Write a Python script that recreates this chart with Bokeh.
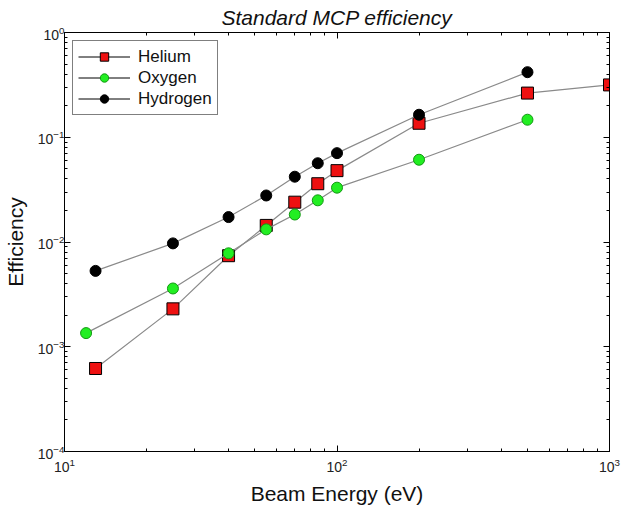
import math
from bokeh.plotting import figure
from bokeh.models import (LogAxis, FixedTicker, Legend, LegendItem,
                          CustomJSTickFormatter, Range1d)
from bokeh.embed import file_html
from bokeh.resources import INLINE

# ---- data ----
energy_he = [13, 25, 40, 55, 70, 85, 100, 200, 500, 1000]
eff_he = [6.2e-4, 2.3e-3, 7.4e-3, 1.44e-2, 2.4e-2, 3.6e-2, 4.8e-2, 0.136, 0.264, 0.316]

energy_o = [12, 25, 40, 55, 70, 85, 100, 200, 500]
eff_o = [1.35e-3, 3.6e-3, 7.8e-3, 1.32e-2, 1.83e-2, 2.5e-2, 3.3e-2, 6.1e-2, 0.147]

energy_h = [13, 25, 40, 55, 70, 85, 100, 200, 500]
eff_h = [5.3e-3, 9.7e-3, 1.73e-2, 2.78e-2, 4.2e-2, 5.65e-2, 7.05e-2, 0.164, 0.418]

x_major = [10, 100, 1000]
y_major = [1e-4, 1e-3, 1e-2, 1e-1, 1]

TITLE = "Standard MCP efficiency"
X_LABEL = "Beam Energy (eV)"
Y_LABEL = "Efficiency"

FONT = "Liberation Sans"

x_minor = [m * d for d in [10, 100] for m in range(2, 10)]
y_minor = [m * d for d in [1e-4, 1e-3, 1e-2, 1e-1] for m in range(2, 10)]

p = figure(width=622, height=508, x_axis_type="log", y_axis_type="log",
           x_range=Range1d(10, 1000), y_range=Range1d(1e-4, 1),
           output_backend="svg", toolbar_location=None,
           min_border_left=62, min_border_right=13,
           min_border_top=32, min_border_bottom=57,
           background_fill_color="white", border_fill_color="white")

p.title.text = TITLE
p.title.align = "center"
p.title.text_font = FONT
p.title.text_font_style = "italic"
p.title.text_font_size = "21px"
p.title.text_color = "#111111"
p.title.standoff = 7
p.title.offset = 0

p.xgrid.visible = False
p.ygrid.visible = False
p.outline_line_color = "black"
p.outline_line_width = 1


def style_axis(ax, ticks, minor):
    ax.ticker = FixedTicker(ticks=ticks, minor_ticks=minor)
    ax.major_tick_in = 6
    ax.major_tick_out = 0
    ax.minor_tick_in = 3
    ax.minor_tick_out = 0
    ax.axis_line_color = "black"
    ax.major_tick_line_color = "black"
    ax.minor_tick_line_color = "black"
    ax.major_label_text_font = FONT
    ax.major_label_text_font_size = "14px"
    ax.major_label_text_color = "#222222"
    ax.axis_label_text_font = FONT
    ax.axis_label_text_font_style = "normal"
    ax.axis_label_text_font_size = "21px"
    ax.axis_label_text_color = "#111111"


style_axis(p.xaxis[0], x_major, x_minor)
style_axis(p.yaxis[0], y_major, y_minor)
p.xaxis[0].axis_label = X_LABEL
p.yaxis[0].axis_label = Y_LABEL
p.xaxis[0].major_label_standoff = 6
p.xaxis[0].axis_label_standoff = 7
p.yaxis[0].major_label_standoff = 0
p.yaxis[0].axis_label_standoff = 8

# frame ticks on the top and right edges (no labels)
blank = CustomJSTickFormatter(code="return ''")
top = LogAxis(formatter=blank, major_label_standoff=0)
style_axis(top, x_major, x_minor)
top.major_label_text_font_size = "1px"
right = LogAxis(formatter=blank, major_label_standoff=0)
style_axis(right, y_major, y_minor)
right.major_label_text_font_size = "1px"
p.add_layout(top, "above")
p.add_layout(right, "right")

LINE = "#8a8a8a"

# Helium
p.line(energy_he, eff_he, line_color=LINE, line_width=1.2)
p.scatter(energy_he, eff_he, marker="square", size=12,
          fill_color="#ee1111", line_color="black", line_width=1)
# Oxygen
p.line(energy_o, eff_o, line_color=LINE, line_width=1.2)
p.scatter(energy_o, eff_o, marker="circle", size=11,
          fill_color="#22ee22", line_color="#119911", line_width=1)
# Hydrogen
p.line(energy_h, eff_h, line_color=LINE, line_width=1.2)
p.scatter(energy_h, eff_h, marker="circle", size=11,
          fill_color="black", line_color="black", line_width=1)

# legend-only proxy renderers (black connecting line as in the reference legend);
# they hold a single NaN so nothing is drawn in the plot area
NAN = [math.nan]
lg_he_l = p.line(NAN, NAN, line_color="black", line_width=1)
lg_he_m = p.scatter(NAN, NAN, marker="square", size=12,
                    fill_color="#ee1111", line_color="black", line_width=1)
lg_o_l = p.line(NAN, NAN, line_color="black", line_width=1)
lg_o_m = p.scatter(NAN, NAN, marker="circle", size=11,
                   fill_color="#22ee22", line_color="#119911", line_width=1)
lg_h_l = p.line(NAN, NAN, line_color="black", line_width=1)
lg_h_m = p.scatter(NAN, NAN, marker="circle", size=11,
                   fill_color="black", line_color="black", line_width=1)

legend = Legend(items=[
    LegendItem(label="Helium", renderers=[lg_he_l, lg_he_m]),
    LegendItem(label="Oxygen", renderers=[lg_o_l, lg_o_m]),
    LegendItem(label="Hydrogen", renderers=[lg_h_l, lg_h_m]),
], location="top_left")
legend.margin = 8
legend.padding = 5
legend.spacing = 0
legend.glyph_width = 52
legend.glyph_height = 21
legend.label_height = 21
legend.label_standoff = 8
legend.label_text_font = FONT
legend.label_text_font_size = "17px"
legend.label_text_color = "#111111"
legend.border_line_color = "black"
legend.border_line_width = 1
legend.background_fill_color = "white"
legend.background_fill_alpha = 1.0
p.add_layout(legend, "center")

open("out.html", "w").write(file_html(p, INLINE))
